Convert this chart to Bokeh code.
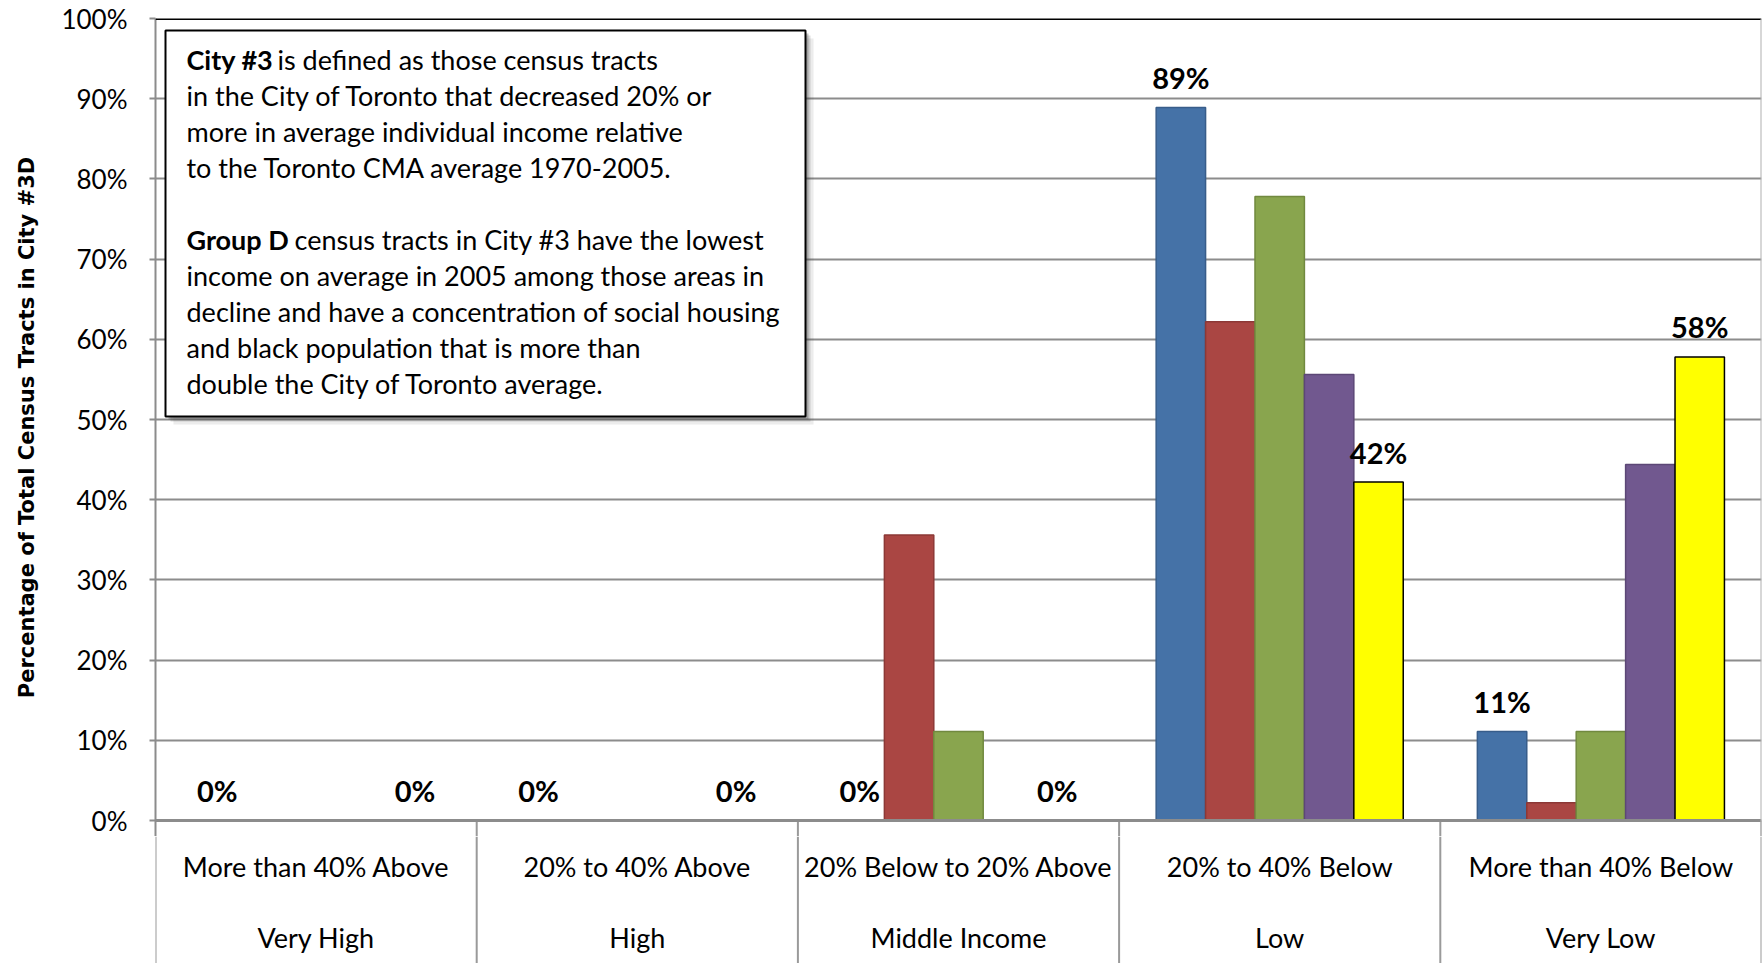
from bokeh.plotting import figure
from bokeh.layouts import column
from bokeh.models import (Range1d, FixedTicker, PrintfTickFormatter, Span, Label,
                          BoxAnnotation, ColumnDataSource)
from bokeh.embed import file_html
from bokeh.resources import INLINE
from bokeh.core.properties import value

# ---------------- data ----------------
band_labels = ["More than 40% Above", "20% to 40% Above", "20% Below to 20% Above",
               "20% to 40% Below", "More than 40% Below"]
group_labels = ["Very High", "High", "Middle Income", "Low", "Very Low"]
series_1 = [0.0, 0.0, 0.0, 88.9, 11.1]    # blue
series_2 = [0.0, 0.0, 35.6, 62.2, 2.2]    # red
series_3 = [0.0, 0.0, 11.1, 77.8, 11.1]   # green
series_4 = [0.0, 0.0, 0.0, 55.6, 44.4]    # purple
series_5 = [0.0, 0.0, 0.0, 42.2, 57.8]    # yellow
labelled_series = [True, False, False, False, True]
y_ticks = [0, 10, 20, 30, 40, 50, 60, 70, 80, 90, 100]
y_title = "Percentage of Total Census Tracts in City #3D"

series = [series_1, series_2, series_3, series_4, series_5]
fills = ["#4572A7", "#AA4643", "#89A54E", "#71588F", "#FFFF00"]
edges = ["#385D8A", "#8C3836", "#71893F", "#5C4776", "#000000"]

# ---------------- layout ----------------
W, H = 1763, 963
LEFT, TOP, RIGHT = 155, 18, 2
BASE_PX = 820
GAP = 16                      # part of the chart figure below the baseline
H1 = BASE_PX + GAP            # height of the chart figure
H2 = H - H1                   # height of the category-label strip
n = len(band_labels)
px_per_x = (W - LEFT - RIGHT) / n
px_per_y = (BASE_PX - TOP) / 100.0
y_start = -GAP / px_per_y


def dx(px):
    return (px - LEFT) / px_per_x


def dy(py):
    return (BASE_PX - py) / px_per_y


xr = Range1d(0, n)
p = figure(width=W, height=H1, output_backend="svg", toolbar_location=None,
           x_range=xr, y_range=Range1d(y_start, 100), x_axis_location=None,
           min_border_left=LEFT, min_border_top=TOP,
           min_border_right=RIGHT, min_border_bottom=0)
p.outline_line_color = None
p.background_fill_color = "white"
p.border_fill_color = "white"
p.xgrid.visible = False

# y axis
ax = p.yaxis[0]
ax.ticker = FixedTicker(ticks=y_ticks)
ax.formatter = PrintfTickFormatter(format="%d%%")
ax.major_label_text_font = "Lato"
ax.major_label_text_font_size = "26px"
ax.major_label_text_color = "#000000"
ax.axis_line_color = "#8c8c8c"
ax.axis_line_width = 2
ax.major_tick_line_color = "#8c8c8c"
ax.major_tick_line_width = 2
ax.major_tick_out = 6
ax.major_tick_in = 0
ax.minor_tick_line_color = None
ax.major_label_standoff = 22
ax.axis_label = y_title
ax.axis_label_text_font = "DejaVu Sans"
ax.axis_label_text_font_style = "bold"
ax.axis_label_text_font_size = "21px"
ax.axis_label_text_color = "#000000"
ax.axis_label_standoff = 19

p.ygrid.ticker = FixedTicker(ticks=[t for t in y_ticks if 0 < t < 100])
p.ygrid.grid_line_color = "#8c8c8c"
p.ygrid.grid_line_width = 2

centers = [i + 0.5 for i in range(n)]
bounds = list(range(n + 1))

# bars
bw = 1.0 / 6.5
for j, vals in enumerate(series):
    xs = [c + (j - 2) * bw for c in centers]
    src = ColumnDataSource(dict(x=xs, top=vals))
    p.vbar(x="x", top="top", width=bw, bottom=0, source=src,
           fill_color=fills[j], line_color=edges[j], line_width=1.5)
    if labelled_series[j]:
        lsrc = ColumnDataSource(dict(x=xs, y=vals,
                                     t=["%d%%" % round(v) for v in vals]))
        p.text(x="x", y="y", text="t", source=lsrc, text_align="center",
               text_baseline="middle", y_offset=-30,
               text_font=value("Lato"), text_font_style="bold",
               text_font_size="29px", text_color="#000000")

# dividers continuing below the baseline
p.segment(x0=bounds[1:], x1=bounds[1:], y0=[y_start] * n, y1=[0] * n,
          line_color="#9a9a9a", line_width=2)

# borders
p.add_layout(Span(location=0, dimension="width", line_color="#8c8c8c", line_width=3))
p.add_layout(Span(location=100, dimension="width", line_color="#000000", line_width=3))
p.add_layout(Span(location=n, dimension="height", line_color="#b0b0b0", line_width=2))

# text box with shadow
for off, alpha in [(8, 0.10), (5, 0.18), (3, 0.30)]:
    p.add_layout(BoxAnnotation(left=dx(165 + off), right=dx(805 + off),
                               top=dy(30 + off), bottom=dy(416 + off),
                               fill_color="#404040", fill_alpha=alpha, line_color=None))
p.add_layout(BoxAnnotation(left=dx(165), right=dx(805), top=dy(30), bottom=dy(416),
                           fill_color="white", fill_alpha=1.0,
                           line_color="#000000", line_width=2, line_alpha=1.0))

lines = [
    (186, 59, "City #3", "bold"),
    (277, 59, "is defined as those census tracts", "normal"),
    (186, 95, "in the City of Toronto that decreased 20% or", "normal"),
    (186, 131, "more in average individual income relative", "normal"),
    (186, 167, "to the Toronto CMA average 1970-2005.", "normal"),
    (186, 239, "Group D", "bold"),
    (294, 239, "census tracts in City #3 have the lowest", "normal"),
    (186, 275, "income on average in 2005 among those areas in", "normal"),
    (186, 311, "decline and have a concentration of social housing", "normal"),
    (186, 347, "and black population that is more than", "normal"),
    (186, 383, "double the City of Toronto average.", "normal"),
]
for lx, ly, txt, style in lines:
    p.add_layout(Label(x=dx(lx), y=dy(ly), text=txt, text_align="left",
                       text_baseline="middle", text_font="Lato",
                       text_font_style=style, text_font_size="27px",
                       text_color="#000000"))

# ---------------- category label strip ----------------
q = figure(width=W, height=H2, output_backend="svg", toolbar_location=None,
           x_range=xr, y_range=Range1d(0, H2), x_axis_location=None,
           y_axis_location=None, min_border_left=LEFT, min_border_top=0,
           min_border_right=RIGHT, min_border_bottom=0)
q.outline_line_color = None
q.background_fill_color = "white"
q.border_fill_color = "white"
q.grid.visible = False

for b in bounds:
    q.add_layout(Span(location=b, dimension="height", line_color="#9a9a9a", line_width=2))


def sy(py):
    return H - py


q.text(x=centers, y=[sy(866)] * n, text=band_labels, text_align="center",
       text_baseline="middle", text_font=value("Lato"), text_font_size="27px",
       text_color="#000000")
q.text(x=centers, y=[sy(937)] * n, text=group_labels, text_align="center",
       text_baseline="middle", text_font=value("Lato"), text_font_size="27px",
       text_color="#000000")

layout = column(p, q, spacing=0)
open("out.html", "w").write(file_html(layout, INLINE))
